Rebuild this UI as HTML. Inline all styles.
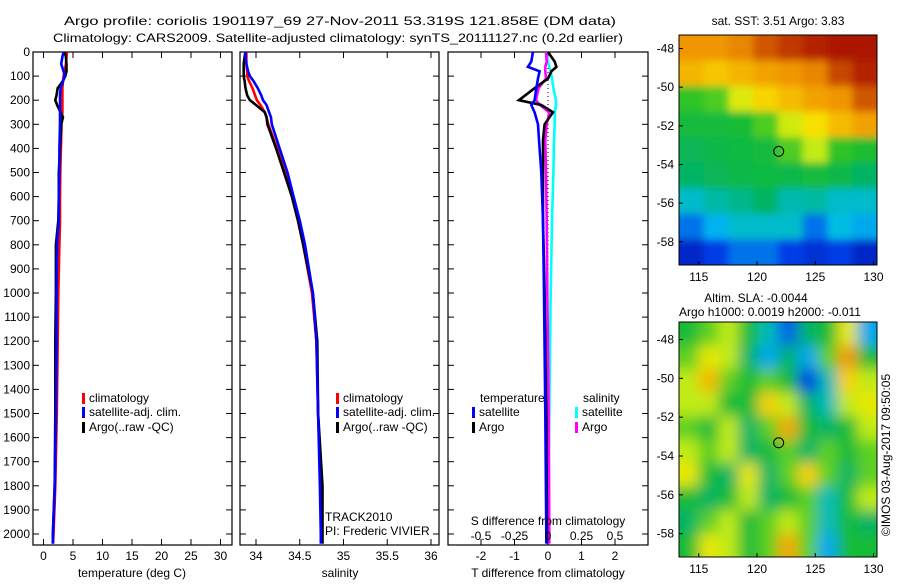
<!DOCTYPE html>
<html><head><meta charset="utf-8">
<style>
html,body{margin:0;padding:0;background:#fff;}
svg text{font-family:"Liberation Sans",sans-serif;font-size:12px;fill:#000;}
</style></head>
<body>
<svg id="fig" width="900" height="580" viewBox="0 0 900 580" xmlns="http://www.w3.org/2000/svg">
<defs>
<clipPath id="c1"><rect x="33" y="52" width="199" height="493"/></clipPath>
<clipPath id="c2"><rect x="240" y="52" width="199" height="493"/></clipPath>
<clipPath id="c3"><rect x="448" y="52" width="200" height="493"/></clipPath>
<clipPath id="cm1"><rect x="679" y="35" width="198" height="230"/></clipPath>
<clipPath id="cm2"><rect x="679" y="322" width="198" height="235"/></clipPath>
<filter id="blur1"><feGaussianBlur stdDeviation="4"/></filter>
<filter id="blur2"><feGaussianBlur stdDeviation="7"/></filter>
</defs>
<text x="64" y="25" textLength="552" lengthAdjust="spacingAndGlyphs" font-size="14">Argo profile: coriolis 1901197_69 27-Nov-2011 53.319S 121.858E (DM data)</text>
<text x="53" y="42" textLength="570" lengthAdjust="spacingAndGlyphs" font-size="14">Climatology: CARS2009. Satellite-adjusted climatology: synTS_20111127.nc (0.2d earlier)</text>
<g id="g"></g>
</svg>
<script>
// ---------- data ----------
const depthLevels = [0,20,50,80,100,120,150,180,200,220,250,270,300,400,500,600,700,800,1000,1200,1500,1800,2000,2040];
const climT = [4.0,3.9,3.8,3.6,3.4,3.3,3.2,3.2,3.2,3.2,3.2,3.1,3.05,2.95,2.85,2.8,2.8,2.7,2.5,2.4,2.25,2.0,1.7,1.6];
const satT  = [3.4,3.2,3.0,3.4,3.6,3.3,2.9,2.8,2.8,2.8,2.8,2.8,2.8,2.7,2.7,2.6,2.6,2.3,2.2,2.2,2.1,1.9,1.6,1.6];
const argoT = [3.6,3.8,3.9,3.9,3.7,3.3,2.4,2.2,2.0,2.3,2.9,3.3,3.0,2.8,2.6,2.6,2.5,2.1,2.1,2.0,2.0,1.9,1.6,1.6];
const climS = [33.89,33.89,33.89,33.9,33.9,33.92,33.96,33.99,34.01,34.05,34.1,34.12,34.14,34.24,34.33,34.41,34.48,34.54,34.64,34.69,34.71,34.74,34.75,34.75];
const satS  = [33.88,33.88,33.89,33.91,33.93,33.97,34.02,34.06,34.08,34.12,34.15,34.17,34.18,34.27,34.36,34.43,34.5,34.56,34.65,34.69,34.71,34.73,34.74,34.74];
const argoS = [33.88,33.87,33.86,33.86,33.86,33.87,33.88,33.9,33.93,34.0,34.1,34.12,34.13,34.23,34.32,34.41,34.48,34.54,34.65,34.7,34.71,34.76,34.76,34.76];
const diffDepth = [0,40,62,80,110,150,200,220,250,300,365,500,700,1000,1500,2000,2040];
const satDT  = [-0.45,-0.5,-0.6,-0.25,-0.3,-0.35,-0.4,-0.5,-0.4,-0.3,-0.27,-0.2,-0.15,-0.12,-0.08,-0.05,-0.05];
const argoDT = [0.0,0.2,0.25,0.1,0.0,-0.4,-0.87,-0.2,0.15,-0.1,-0.15,-0.15,-0.15,-0.1,-0.05,-0.03,-0.03];
const satDS  = [-0.015,0.0,0.01,0.02,0.03,0.04,0.06,0.06,0.05,0.05,0.045,0.04,0.03,0.02,0.01,0.0,0.0];
const argoDS = [-0.015,-0.01,-0.02,-0.02,-0.015,-0.07,-0.09,-0.06,0.01,-0.01,-0.02,-0.015,-0.01,-0.005,0.005,0.01,0.01];
const depthTicks = [0,100,200,300,400,500,600,700,800,900,1000,1100,1200,1300,1400,1500,1600,1700,1800,1900,2000];
const tempTicks = [0,5,10,15,20,25,30];
const salTicks = [34,34.5,35,35.5,36];
const tdiffTicks = [-2,-1,0,1,2];
const sdiffTicks = [-0.5,-0.25,0,0.25,0.5];
const sdiffTickLabels = ["-0.5","-0.25","0","0.25","0.5"];
const lonTicks = [115,120,125,130];
const latTicks = [-48,-50,-52,-54,-56,-58];
const sstGrid = [
 [0.8,0.8,0.82,0.88,0.92,0.95,0.97,0.97],
 [0.75,0.72,0.75,0.78,0.8,0.82,0.9,0.95],
 [0.48,0.5,0.62,0.7,0.74,0.78,0.8,0.88],
 [0.44,0.44,0.45,0.5,0.6,0.68,0.74,0.78],
 [0.4,0.42,0.43,0.44,0.5,0.58,0.48,0.46],
 [0.38,0.4,0.42,0.43,0.42,0.44,0.42,0.38],
 [0.3,0.33,0.35,0.38,0.32,0.33,0.3,0.3],
 [0.2,0.26,0.3,0.3,0.3,0.2,0.28,0.25],
 [0.1,0.15,0.2,0.2,0.15,0.12,0.15,0.1]];
const slaGrid = [
 [.45,.5,.55,.45,.35,.25,.4,.45,.6,.3],
 [.5,.6,.55,.4,.3,.4,.3,.5,.72,.45],
 [.55,.68,.5,.45,.5,.45,.22,.35,.65,.55],
 [.55,.55,.45,.45,.65,.55,.4,.35,.55,.6],
 [.5,.45,.55,.4,.5,.7,.45,.4,.45,.55],
 [.55,.5,.55,.4,.45,.5,.4,.5,.45,.5],
 [.6,.45,.4,.6,.4,.5,.65,.5,.4,.5],
 [.45,.4,.45,.55,.4,.45,.5,.35,.45,.55],
 [.4,.5,.55,.45,.5,.55,.5,.35,.45,.4],
 [.45,.6,.55,.45,.5,.7,.5,.3,.45,.45]];
const argoLon = 121.858, argoLat = -53.319;

// ---------- helpers ----------
const NS="http://www.w3.org/2000/svg";
const G=document.getElementById('g');
function el(t,a,p){const e=document.createElementNS(NS,t);for(const k in a)e.setAttribute(k,a[k]);(p||G).appendChild(e);return e;}
function txt(x,y,s,anchor,p){const e=el('text',{x:x,y:y,'text-anchor':anchor||'start'},p);e.textContent=s;return e;}
const yD=d=>52+d*0.241;
const xT=v=>43.5+v*5.9;
const xS=v=>256+(v-34)*87.5;
const xDT=v=>548+v*33.5;
const xDS=v=>548+v*134;

function panel(x0,x1,name,labelDepth){
  const r=el('rect',{x:x0,y:52,width:x1-x0,height:493,fill:'none',stroke:'#000','stroke-width':1.2});
  
  
  depthTicks.forEach(d=>{
    el('line',{x1:x0,x2:x0+6,y1:yD(d),y2:yD(d),stroke:'#000'});
    el('line',{x1:x1-6,x2:x1,y1:yD(d),y2:yD(d),stroke:'#000'});
    if(labelDepth){const t=txt(x0-3,yD(d)+4,String(d),'end');
      
      }
  });
}
function xticks(ticks,fx,labels,ly){
  ticks.forEach((v,i)=>{const x=fx(v);
    el('line',{x1:x,x2:x,y1:52,y2:58,stroke:'#000'});
    el('line',{x1:x,x2:x,y1:539,y2:545,stroke:'#000'});
    if(labels){const t=txt(x,ly,labels[i],'middle');
      
      }
  });
}
function line(xs,ds,fx,col,clip,name,w){
  const pts=xs.map((v,i)=>fx(v).toFixed(1)+','+yD(ds[i]).toFixed(1)).join(' ');
  const p=el('polyline',{points:pts,fill:'none',stroke:col,'stroke-width':w||2.6,'clip-path':'url(#'+clip+')'});
  
  
}
function legend(x,y,col,label){
  el('rect',{x:x,y:y-9,width:3,height:11,fill:col});
  const t=txt(x+7,y,label);
  
  
}

// panel 1 temperature
panel(33,232,'temperature-panel',true);
xticks(tempTicks,xT,tempTicks.map(String),560);
line(climT,depthLevels,xT,'#f00','c1','temp-climatology-line');
line(argoT,depthLevels,xT,'#000','c1','temp-argo-line');
line(satT,depthLevels,xT,'#00f','c1','temp-satellite-line');
let t=txt(132,577,'temperature (deg C)','middle');


legend(82,402,'#f00','climatology');legend(82,416,'#00f','satellite-adj. clim.');legend(82,431,'#000','Argo(..raw -QC)');

// panel 2 salinity
panel(240,439,'salinity-panel',false);
xticks(salTicks,xS,salTicks.map(String),560);
line(climS,depthLevels,xS,'#f00','c2','sal-climatology-line');
line(argoS,depthLevels,xS,'#000','c2','sal-argo-line');
line(satS,depthLevels,xS,'#00f','c2','sal-satellite-line');
t=txt(340,577,'salinity','middle');


legend(336,402,'#f00','climatology');legend(336,416,'#00f','satellite-adj. clim.');legend(336,431,'#000','Argo(..raw -QC)');
t=txt(325,521,'TRACK2010');
t=txt(325,535,'PI: Frederic VIVIER');

// panel 3 differences
panel(448,648,'difference-panel',false);
xticks(tdiffTicks,xDT,tdiffTicks.map(String),560);
el('line',{x1:548,x2:548,y1:52,y2:545,stroke:'#000','stroke-dasharray':'1,3'});
line(satDS,diffDepth,xDS,'#0ff','c3','sdiff-satellite-line');
line(argoDS,diffDepth,xDS,'#f0f','c3','sdiff-argo-line');
line(argoDT,diffDepth,xDT,'#000','c3','tdiff-argo-line');
line(satDT,diffDepth,xDT,'#00f','c3','tdiff-satellite-line');
sdiffTicks.forEach((v,i)=>{t=txt(xDS(v),540,sdiffTickLabels[i],'middle');
  });
t=txt(548,525,'S difference from climatology','middle');
t=txt(548,577,'T difference from climatology','middle');
t=txt(480,402,'temperature');
t=txt(583,402,'salinity');
legend(472,416,'#00f','satellite');legend(472,431,'#000','Argo');
legend(575,416,'#0ff','satellite');legend(575,431,'#f0f','Argo');

// ---------- maps ----------
function cmap(v){
  v=Math.max(0,Math.min(1,v));
  const stops=[[0,[0,0,140]],[0.15,[0,60,230]],[0.27,[0,190,240]],[0.38,[0,180,100]],[0.47,[30,190,40]],[0.57,[190,235,20]],[0.67,[250,230,0]],[0.8,[240,150,0]],[0.9,[200,70,0]],[1,[160,0,0]]];
  for(let i=1;i<stops.length;i++){if(v<=stops[i][0]){const a=stops[i-1],b=stops[i];const f=(v-a[0])/(b[0]-a[0]);
    const c=a[1].map((x,j)=>Math.round(x+(b[1][j]-x)*f));return 'rgb('+c.join(',')+')';}}
  return 'rgb(160,0,0)';
}
function map(grid,x0,y0,w,h,clip,blur,name,latTop,latBot,contrast){
  const lonL=113.3,lonR=130.3;
  const fx=lon=>x0+(lon-lonL)/(lonR-lonL)*w;
  const fy=lat=>y0+(latTop-lat)/(latTop-latBot)*h;
  const gc=el('g',{'clip-path':'url(#'+clip+')'});
  
  
  const gb=el('g',{filter:'url(#'+blur+')'},gc);
  const R=grid.length,C=grid[0].length,cw=w/C,ch=h/R;
  grid.forEach((row,r)=>row.forEach((v,c)=>{
    const vv=0.47+(v-0.47)*contrast;
    const cell=el('rect',{x:x0+c*cw-(c==0?15:0),y:y0+r*ch-(r==0?15:0),width:cw+1+(c==0||c==C-1?15:0),height:ch+1+(r==0||r==R-1?15:0),fill:cmap(vv)},gb);
    
    
  }));
  el('rect',{x:x0,y:y0,width:w,height:h,fill:'none',stroke:'#000'});
  const ci=el('circle',{cx:fx(argoLon),cy:fy(argoLat),r:5,fill:'none',stroke:'#000'});
  
  
  lonTicks.forEach(l=>{const x=fx(l);el('line',{x1:x,x2:x,y1:y0+h,y2:y0+h-4,stroke:'#000'});
    const tt=txt(x,y0+h+16,String(l),'middle');});
  latTicks.forEach(l=>{const y=fy(l);el('line',{x1:x0,x2:x0+4,y1:y,y2:y,stroke:'#000'});
    const tt=txt(x0-5,y+4,String(l),'end');});
}
map(sstGrid,679,35,198,230,'cm1','blur1','sst-map',-47.3,-59.2,1);
map(slaGrid,679,322,198,235,'cm2','blur2','sla-map',-47.1,-59.2,1.3);
t=txt(778,25,'sat. SST: 3.51 Argo: 3.83','middle');
t=txt(756,302,'Altim. SLA: -0.0044','middle');
t=txt(770,316,'Argo h1000: 0.0019 h2000: -0.011','middle');
t=txt(0,0,'©IMOS 03-Aug-2017 09:50:05','middle');
t.setAttribute('transform','translate(890,455) rotate(-90)');

</script>
</body></html>
